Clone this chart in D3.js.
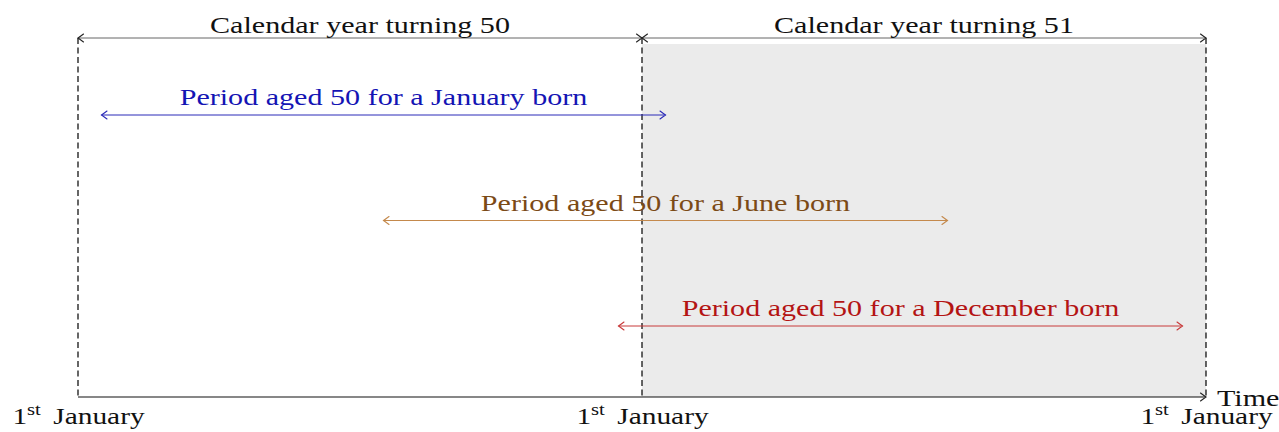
<!DOCTYPE html>
<html>
<head>
<meta charset="utf-8">
<script src="https://cdn.jsdelivr.net/npm/d3@7"></script>
<style>
  body { margin: 0; background: #fff; }
  svg { display: block; }
  svg text { font-family: "Liberation Serif", "DejaVu Serif", serif; }
</style>
</head>
<body>
<div id="chart"></div>
<script>
// months since 1st January of the year turning 50
const years = ["Calendar year turning 50", "Calendar year turning 51"];
const yearStarts = [0, 12];
const yearEnds = [12, 24];
const tickMonths = [0, 12, 24];
const tickLabels = ["1", "1", "1"];

const births = ["January", "June", "December"];
const periodStart = [0.5, 6.5, 11.5];
const periodEnd = [12.5, 18.5, 23.5];
const periodLabels = ["Period aged 50 for a January born", "Period aged 50 for a June born", "Period aged 50 for a December born"];
const lineColors = ["#2a2ab8", "#c4894c", "#c83a3a"];
const textColors = ["#1414b4", "#7b4a16", "#b41414"];

const width = 1279;
const height = 432;
const margin = {top: 38, left: 78, bottom: 35, right: 73};
const fontSize = 23.5;
const stretch = 1.28; // computer modern is wider than Liberation Serif

const x = d3.scaleLinear()
  .domain([0, 24])
  .range([margin.left, width - margin.right]);

const y = d3.scalePoint()
  .domain(births)
  .range([115, 326]);

const axisY = height - margin.bottom;

const svg = d3.select('#chart').append('svg')
  .attr('width', width).attr('height', height);

// arrow heads (tikz "to" style)
const defs = svg.append('defs');
function marker(id, color) {
  defs.append('marker')
    .attr('id', id)
    .attr('viewBox', '-8 -5 10 10')
    .attr('refX', 0).attr('refY', 0)
    .attr('markerWidth', 10).attr('markerHeight', 10)
    .attr('markerUnits', 'userSpaceOnUse')
    .attr('orient', 'auto-start-reverse')
    .append('path')
    .attr('d', 'M-5.5,-4 Q-1.5,-1 0,0 Q-1.5,1 -5.5,4')
    .attr('fill', 'none')
    .attr('stroke', color)
    .attr('stroke-width', 1.1)
    .attr('stroke-linecap', 'round');
}
marker('arr-k', '#222');
births.forEach((b, i) => marker('arr-' + i, lineColors[i]));

function widen(sel, k) {
  sel.each(function() {
    const len = this.getComputedTextLength();
    d3.select(this).attr('textLength', len * (k || stretch)).attr('lengthAdjust', 'spacingAndGlyphs');
  });
}

// shaded second year
svg.append('rect')
  .attr('x', x(12))
  .attr('y', 44)
  .attr('width', x(24) - x(12))
  .attr('height', axisY - 44)
  .attr('fill', '#ebebeb');

// dashed year boundaries
svg.append('g')
  .selectAll('line').data(tickMonths).enter().append('line')
  .attr('x1', d => x(d)).attr('x2', d => x(d))
  .attr('y1', margin.top).attr('y2', axisY)
  .attr('stroke', '#000')
  .attr('stroke-width', 1.2)
  .attr('stroke-dasharray', '6,3.5');

// time axis
const xAxis = d3.axisBottom(x).tickValues(tickMonths).tickSize(0).tickFormat('');
const gx = svg.append('g')
  .attr('transform', `translate(0, ${axisY})`)
  .call(xAxis);
gx.select('.domain').remove();
gx.attr('font-family', null).attr('font-size', null).attr('text-anchor', null);
gx.append('line')
  .attr('x1', x(0)).attr('x2', x(24))
  .attr('stroke', '#111').attr('stroke-width', 1.1)
  .attr('marker-end', 'url(#arr-k)');
const tickText = gx.selectAll('.tick').append('text')
  .attr('y', 27)
  .attr('fill', '#111')
  .attr('font-size', fontSize)
  .attr('text-anchor', 'middle');
tickText.append('tspan').text((d, i) => tickLabels[i]);
tickText.append('tspan').attr('dy', -9).attr('font-size', 16.5).text('st');
tickText.append('tspan').attr('dy', 9).attr('dx', 4).text(' January');
widen(tickText, 1.3);
const timeText = gx.append('text')
  .attr('x', x(24) + 11).attr('y', 9)
  .attr('fill', '#111')
  .attr('font-size', fontSize)
  .attr('text-anchor', 'start')
  .text('Time');
widen(timeText);

// calendar years
const gYears = svg.append('g');
gYears.selectAll('line').data(years).enter().append('line')
  .attr('x1', (d, i) => x(yearStarts[i])).attr('x2', (d, i) => x(yearEnds[i]))
  .attr('y1', margin.top).attr('y2', margin.top)
  .attr('stroke', '#666').attr('stroke-width', 1)
  .attr('marker-start', 'url(#arr-k)')
  .attr('marker-end', 'url(#arr-k)');
gYears.selectAll('text').data(years).enter().append('text')
  .attr('x', (d, i) => x((yearStarts[i] + yearEnds[i]) / 2))
  .attr('y', margin.top - 5)
  .attr('text-anchor', 'middle')
  .attr('font-size', fontSize)
  .attr('fill', '#111')
  .text(d => d)
  .call(widen);

// periods aged 50
const gP = svg.append('g');
gP.selectAll('line').data(births).enter().append('line')
  .attr('x1', (d, i) => x(periodStart[i])).attr('x2', (d, i) => x(periodEnd[i]))
  .attr('y1', d => y(d)).attr('y2', d => y(d))
  .attr('stroke', (d, i) => lineColors[i]).attr('stroke-width', 1)
  .attr('marker-start', (d, i) => `url(#arr-${i})`)
  .attr('marker-end', (d, i) => `url(#arr-${i})`);
gP.selectAll('text').data(births).enter().append('text')
  .attr('x', (d, i) => x((periodStart[i] + periodEnd[i]) / 2))
  .attr('y', d => y(d) - 10)
  .attr('text-anchor', 'middle')
  .attr('font-size', fontSize)
  .attr('fill', (d, i) => textColors[i])
  .text((d, i) => periodLabels[i])
  .call(widen);
</script>
</body>
</html>
